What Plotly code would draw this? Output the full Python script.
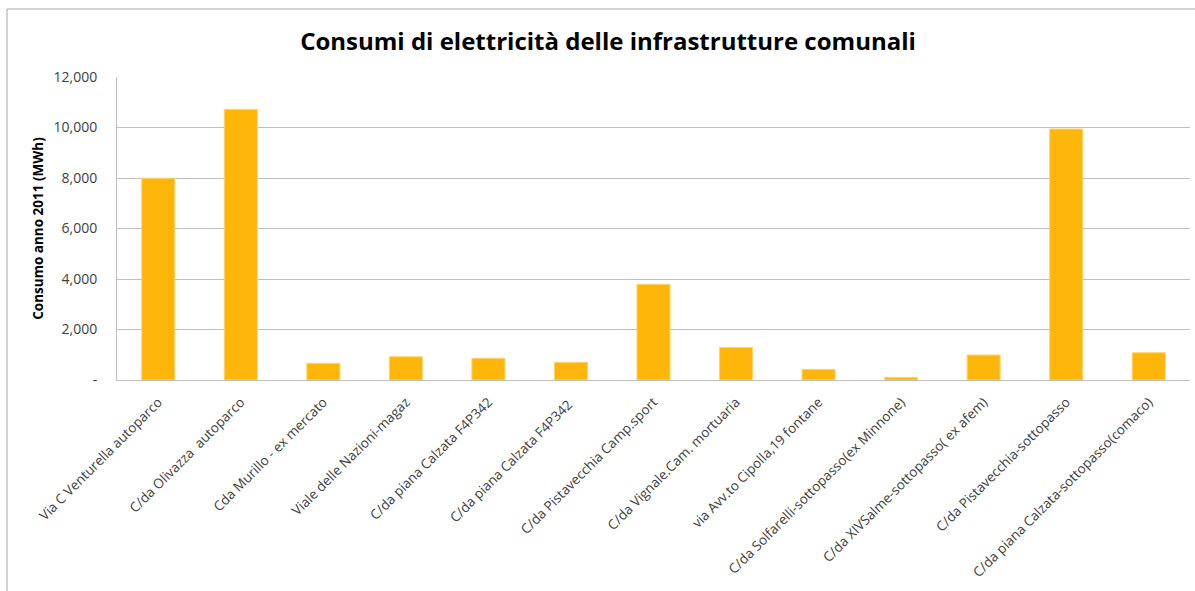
import plotly.graph_objects as go

# Consumo elettrico 2011 per infrastruttura comunale (MWh)
sites = [
    "Via C Venturella autoparco",
    "C/da Olivazza  autoparco",
    "Cda Murillo - ex mercato",
    "Viale delle Nazioni-magaz",
    "C/da piana Calzata F4P342",
    "C/da piana Calzata F4P342 ",
    "C/da Pistavecchia Camp.sport",
    "C/da Vignale.Cam. mortuaria",
    "via Avv.to Cipolla,19 fontane",
    "C/da Solfarelli-sottopasso(ex Minnone)",
    "C/da XIVSalme-sottopasso( ex afem)",
    "C/da Pistavecchia-sottopasso",
    "C/da piana Calzata-sottopasso(comaco)",
]
consumo_mwh = [7990, 10720, 660, 920, 860, 700, 3790, 1290, 420, 105, 990, 9940, 1080]

y_tick_vals = [0, 2000, 4000, 6000, 8000, 10000, 12000]
y_tick_text = ["-", "2,000", "4,000", "6,000", "8,000", "10,000", "12,000"]

title_text = "Consumi di elettricità delle infrastrutture comunali"
y_title = "Consumo anno 2011 (MWh)"

BAR = "#FFB60B"
GRID = "#BFBFBF"
TXT = "#404040"
FONT = "Open Sans"

fig = go.Figure(
    go.Bar(
        x=sites,
        y=consumo_mwh,
        marker=dict(color=BAR, line=dict(color="#FFD46A", width=1)),
        hoverinfo="x+y",
    )
)

fig.update_layout(
    width=1195,
    height=591,
    margin=dict(l=117, r=5, t=77, b=211),
    paper_bgcolor="white",
    plot_bgcolor="white",
    bargap=0.6,
    showlegend=False,
    font=dict(family=FONT, color=TXT),
    title=dict(
        text=title_text,
        x=608 / 1195,
        xref="container",
        xanchor="center",
        y=1 - 42 / 591,
        yanchor="middle",
        font=dict(family=FONT, size=24, color="black", weight="bold"),
    ),
    shapes=[
        # chart frame (left and top edges visible)
        dict(
            type="rect",
            xref="paper",
            yref="paper",
            x0=-110 / 1073,
            x1=1.1,
            y0=-0.8,
            y1=1 + 68 / 303,
            line=dict(color="#A6A6A6", width=1),
            fillcolor="rgba(0,0,0,0)",
            layer="below",
        )
    ],
)

fig.update_xaxes(
    type="category",
    range=[-0.5, len(sites) - 0.5],
    tickangle=-45,
    tickfont=dict(family=FONT, size=13.5, color=TXT),
    showgrid=False,
    showline=True,
    linecolor=GRID,
    linewidth=1,
    ticks="",
    ticklabelstandoff=8,
)

fig.update_yaxes(
    range=[0, 12000],
    tickvals=y_tick_vals,
    ticktext=y_tick_text,
    tickfont=dict(family=FONT, size=14, color=TXT),
    showgrid=True,
    gridcolor=GRID,
    gridwidth=1,
    showline=True,
    linecolor=GRID,
    linewidth=1,
    ticks="",
    ticklabelstandoff=16,
    zeroline=False,
    title=dict(
        text=y_title,
        standoff=6,
        font=dict(family=FONT, size=13.5, color="black", weight="bold"),
    ),
)

fig.write_html("out.html")
